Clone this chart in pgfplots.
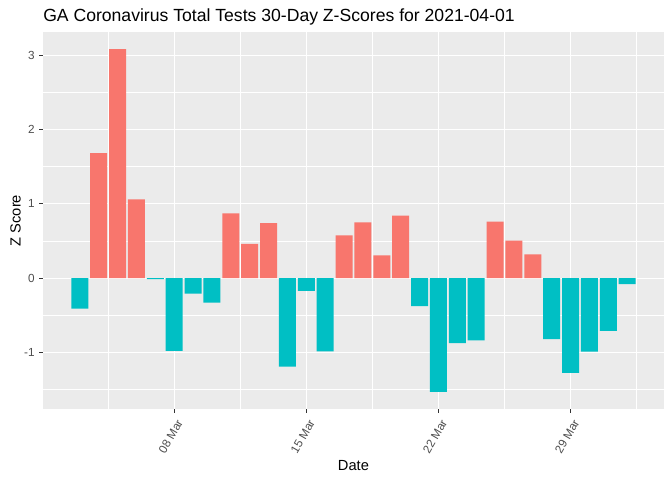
\documentclass[border=0pt]{standalone}
\usepackage{fontspec}
\setmainfont{Liberation Sans}
\usepackage{pgfplots}
\pgfplotsset{compat=1.18}
\definecolor{ggpos}{HTML}{F8766D}
\definecolor{ggneg}{HTML}{00BFC4}
\definecolor{panelbg}{HTML}{EBEBEB}
\definecolor{gray30}{HTML}{4D4D4D}
\definecolor{gray20}{HTML}{333333}

\begin{document}
\begin{tikzpicture}
\path[use as bounding box] (0,0) rectangle (504pt,360pt);
\begin{axis}[
  at={(32.25pt,53.25pt)}, anchor=south west,
  scale only axis, width=465.75pt, height=282.75pt,
  xmin=1.05, xmax=33.95, ymin=-1.76, ymax=3.31,
  axis background/.style={fill=panelbg},
  axis line style={draw=none},
  xtick={8,15,22,29},
  xticklabels={08 Mar,15 Mar,22 Mar,29 Mar},
  minor xtick={4.5,11.5,18.5,25.5,32.5},
  ytick={-1,0,1,2,3},
  yticklabels={-1,0,1,2,3},
  minor ytick={-1.5,-0.5,0.5,1.5,2.5},
  xtick pos=bottom, ytick pos=left,
  grid=both,
  major grid style={white, line width=0.8pt},
  minor grid style={white, line width=0.4pt},
  tick align=outside,
  major tick length=2.75pt,
  minor tick length=0pt,
  major tick style={gray20, line width=0.8pt},
  xticklabel style={xshift=6pt, yshift=-3pt, rotate=60, anchor=east,
    font=\fontsize{8.8}{10}\selectfont, text=gray30},
  yticklabel style={font=\fontsize{8.8}{10}\selectfont, text=gray30},
]
% z-scores above zero
\addplot[ybar, bar width=0.9, bar shift=0pt, fill=ggpos, draw=none] coordinates {
  (4,1.68) (5,3.08) (6,1.06) (11,0.87) (12,0.46) (13,0.74)
  (17,0.575) (18,0.75) (19,0.305) (20,0.84)
  (25,0.76) (26,0.506) (27,0.318)
};
% z-scores below zero
\addplot[ybar, bar width=0.9, bar shift=0pt, fill=ggneg, draw=none] coordinates {
  (3,-0.41) (7,-0.015) (8,-0.977) (9,-0.21) (10,-0.33)
  (14,-1.19) (15,-0.17) (16,-0.985)
  (21,-0.376) (22,-1.53) (23,-0.873) (24,-0.837)
  (28,-0.82) (29,-1.275) (30,-0.99) (31,-0.71) (32,-0.08)
};
\end{axis}
\node[anchor=base west, font=\fontsize{13.2}{15}\selectfont, inner sep=0pt] at (32.25pt,343.7pt)
  {GA Coronavirus Total Tests 30-Day Z-Scores for 2021-04-01};
\node[anchor=base, font=\fontsize{11}{13}\selectfont, inner sep=0pt] at (265.1pt,7.5pt) {Date};
\node[anchor=base, rotate=90, font=\fontsize{11}{13}\selectfont, inner sep=0pt] at (15.5pt,194.6pt) {Z Score};
\end{tikzpicture}
\end{document}
